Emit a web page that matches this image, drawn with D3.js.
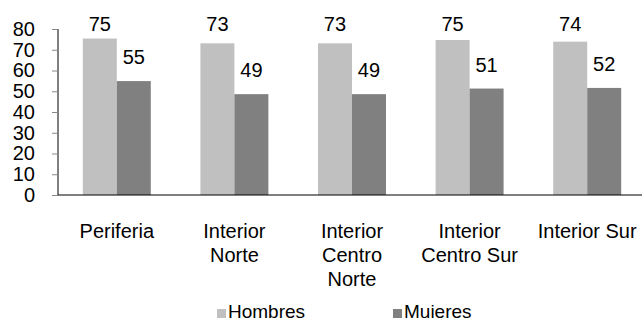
<!DOCTYPE html>
<html>
<head>
<meta charset="utf-8">
<script src="https://cdn.jsdelivr.net/npm/d3@7.9.0/dist/d3.min.js"></script>
<style>
  body { margin: 0; background: #fff; }
  svg { display: block; font-family: "Liberation Sans", Arial, sans-serif; }
</style>
</head>
<body>
<svg id="chart" width="642" height="322"></svg>
<script>
// Chart data
const categories = ["Periferia", "Interior Norte", "Interior Centro Norte", "Interior Centro Sur", "Interior Sur"];
const seriesNames = ["Hombres", "Muieres"];
const hombres = [75.4, 73.1, 73.1, 74.7, 73.9];
const mujeres = [54.9, 48.6, 48.6, 51.3, 51.6];
const yTicks = [0, 10, 20, 30, 40, 50, 60, 70, 80];
const colors = ["#c0c0c0", "#808080"];

const svg = d3.select("#chart");
const fmt = d3.format(".0f");

// Scales
const x0 = d3.scaleBand()
    .domain(categories)
    .range([58, 646])
    .paddingInner(0.422)
    .paddingOuter(0.211);

const x1 = d3.scaleBand()
    .domain(seriesNames)
    .range([0, x0.bandwidth()]);

const y = d3.scaleLinear().domain([0, 80]).range([195, 29]);

const color = d3.scaleOrdinal().domain(seriesNames).range(colors);

// Table built from the arrays
const rows = categories.map((c, i) => ({
    cat: c,
    values: [
        { key: "Hombres", value: hombres[i] },
        { key: "Muieres", value: mujeres[i] }
    ]
}));

// Bars
const groups = svg.append("g")
    .selectAll("g")
    .data(rows)
    .join("g")
    .attr("transform", d => `translate(${x0(d.cat)},0)`);

groups.selectAll("rect")
    .data(d => d.values)
    .join("rect")
    .attr("x", d => x1(d.key))
    .attr("y", d => y(d.value))
    .attr("width", x1.bandwidth())
    .attr("height", d => y(0) - y(d.value))
    .attr("fill", d => color(d.key));

// Value labels
groups.selectAll("text")
    .data(d => d.values)
    .join("text")
    .attr("x", d => x1(d.key) + x1.bandwidth() / 2)
    .attr("y", d => Math.max(y(d.value) - 17, 31))
    .attr("text-anchor", "middle")
    .attr("font-size", 20)
    .attr("fill", "#000")
    .text(d => fmt(d.value));

// Y axis
const yAxis = svg.append("g")
    .attr("transform", "translate(58,0)")
    .call(d3.axisLeft(y).tickValues(yTicks).tickSize(6).tickPadding(17));
yAxis.select(".domain").attr("stroke", "#000").attr("d", `M0,${y(80)}V${y(0)}`);
yAxis.selectAll(".tick line").attr("stroke", "#888");
yAxis.selectAll(".tick text")
    .attr("font-size", 20)
    .attr("font-family", "Liberation Sans, Arial, sans-serif")
    .attr("fill", "#000");

// X axis baseline
svg.append("line")
    .attr("x1", 58).attr("x2", 642)
    .attr("y1", y(0)).attr("y2", y(0))
    .attr("stroke", "#000");

// Category labels (wrapped)
const xLabels = svg.append("g")
    .selectAll("text")
    .data(categories)
    .join("text")
    .attr("x", d => x0(d) + x0.bandwidth() / 2)
    .attr("y", 238)
    .attr("text-anchor", "middle")
    .attr("font-size", 20)
    .attr("fill", "#000")
    .text(d => d);

function wrap(texts, width) {
    texts.each(function () {
        const text = d3.select(this);
        const words = text.text().split(/\s+/);
        const cx = text.attr("x");
        let line = [];
        let tspan = text.text(null).append("tspan").attr("x", cx).attr("dy", 0);
        words.forEach(w => {
            line.push(w);
            tspan.text(line.join(" "));
            if (tspan.node().getComputedTextLength() > width && line.length > 1) {
                line.pop();
                tspan.text(line.join(" "));
                line = [w];
                tspan = text.append("tspan").attr("x", cx).attr("dy", 24).text(w);
            }
        });
    });
}
xLabels.call(wrap, 105);

// Legend
const legend = svg.append("g");
const legendX = [217, 393];
seriesNames.forEach((s, i) => {
    legend.append("rect")
        .attr("x", legendX[i]).attr("y", 309)
        .attr("width", 9).attr("height", 9)
        .attr("fill", color(s));
    legend.append("text")
        .attr("x", legendX[i] + 11).attr("y", 318)
        .attr("font-size", 19)
        .attr("fill", "#000")
        .text(s);
});
</script>
</body>
</html>
